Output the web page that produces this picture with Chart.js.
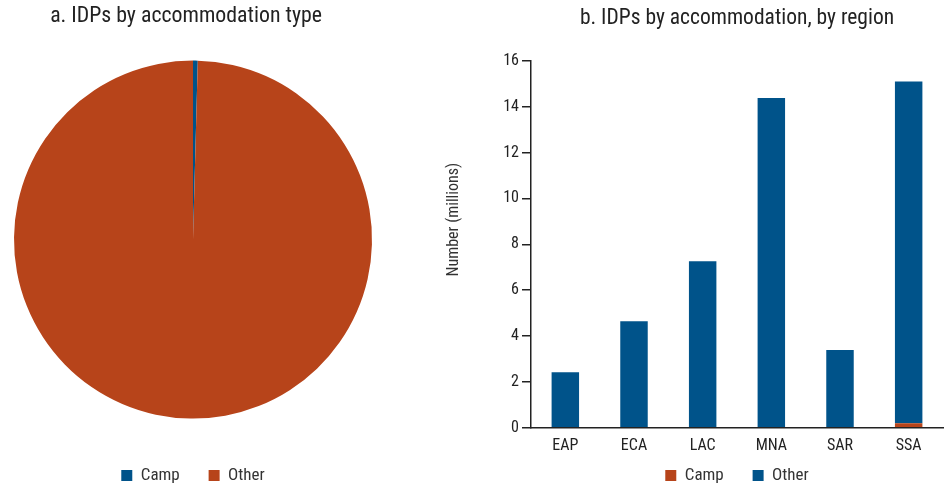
<!DOCTYPE html>
<html>
<head>
<meta charset="utf-8">
<script src="https://cdn.jsdelivr.net/npm/chart.js@4.4.1/dist/chart.umd.min.js"></script>
<style>
  html, body { margin: 0; padding: 0; background: #fff; }
  #wrap { position: relative; width: 945px; height: 486px; }
  #pieBox { position: absolute; left: 0; top: 0; width: 390px; height: 486px; }
  #barBox { position: absolute; left: 430px; top: 0; width: 515px; height: 486px; }
</style>
</head>
<body>
<div id="wrap">
  <div id="pieBox"><canvas id="pieChart" width="390" height="486"></canvas></div>
  <div id="barBox"><canvas id="barChart" width="515" height="486"></canvas></div>
</div>
<script>
const FONT = "'Liberation Sans Narrow', 'Roboto Condensed', Roboto, sans-serif";
const BLUE = "#00538a";
const ORANGE = "#b7441a";

// panel a
const pieLabels = ["Camp", "Other"];
const pieValues = [0.2, 46.7];

// panel b
const regions = ["EAP", "ECA", "LAC", "MNA", "SAR", "SSA"];
const campValues = [0, 0, 0, 0, 0, 0.2];
const otherValues = [2.42, 4.65, 7.26, 14.38, 3.39, 14.9];

Chart.defaults.font.family = FONT;
Chart.defaults.color = "#222";
Chart.defaults.animation = false;

// legend with a wide gap between items but little vertical padding
function legendOpts(baseGen, fullSize) {
    return {
        position: "bottom",
        fullSize: fullSize,
        labels: {
            boxWidth: 11,
            boxHeight: 11,
            padding: 10,
            font: { size: 17 },
            color: "#333",
            generateLabels: function (chart) {
                const items = baseGen(chart);
                items.forEach((it, i) => {
                    if (i < items.length - 1) it.text = it.text + "\u2003\u2005";
                });
                return items;
            }
        }
    };
}

const pieCtx = document.getElementById("pieChart").getContext("2d");
new Chart(pieCtx, {
    type: "pie",
    data: {
        labels: pieLabels,
        datasets: [{
            data: pieValues,
            backgroundColor: [BLUE, ORANGE],
            borderWidth: 0
        }]
    },
    options: {
        responsive: false,
        maintainAspectRatio: false,
        layout: { padding: { left: 14, right: 18, top: 0, bottom: -8 } },
        plugins: {
            title: {
                display: true,
                text: "a. IDPs by accommodation type\u2002\u2009",
                font: { size: 21.8, weight: "normal" },
                color: "#222",
                padding: { top: 3, bottom: -7 }
            },
            legend: legendOpts(Chart.overrides.pie.plugins.legend.labels.generateLabels, true),
            tooltip: { enabled: false }
        }
    }
});

const barCtx = document.getElementById("barChart").getContext("2d");
new Chart(barCtx, {
    type: "bar",
    data: {
        labels: regions,
        datasets: [
            { label: "Camp", data: campValues, backgroundColor: ORANGE, categoryPercentage: 1, barPercentage: 0.4 },
            { label: "Other", data: otherValues, backgroundColor: BLUE, categoryPercentage: 1, barPercentage: 0.4 }
        ]
    },
    options: {
        responsive: false,
        maintainAspectRatio: false,
        layout: { padding: { left: 10, right: 2, top: 0, bottom: -8 } },
        scales: {
            x: {
                stacked: true,
                grid: { display: false },
                border: { display: true, color: "#222", width: 1.5 },
                ticks: { font: { size: 16 }, color: "#222", padding: 1 }
            },
            y: {
                stacked: true,
                min: 0,
                max: 16,
                ticks: { stepSize: 2, font: { size: 16 }, color: "#222", padding: 3 },
                grid: { drawOnChartArea: false, drawTicks: true, tickLength: 9, color: "#222", lineWidth: 1.5 },
                border: { display: true, color: "#222", width: 1.5 },
                title: {
                    display: true,
                    // leading spaces lift the rotated title a little above the axis centre
                    text: "\u2003\u2003\u2003\u2002Number (millions)",
                    font: { size: 16 },
                    color: "#333",
                    padding: { bottom: 37 }
                }
            }
        },
        plugins: {
            title: {
                display: true,
                text: "b. IDPs by accommodation, by region",
                font: { size: 21.5, weight: "normal" },
                color: "#222",
                fullSize: false,
                padding: { top: 6, bottom: 29 }
            },
            legend: legendOpts(Chart.defaults.plugins.legend.labels.generateLabels, false),
            tooltip: { enabled: false }
        }
    }
});
</script>
</body>
</html>
